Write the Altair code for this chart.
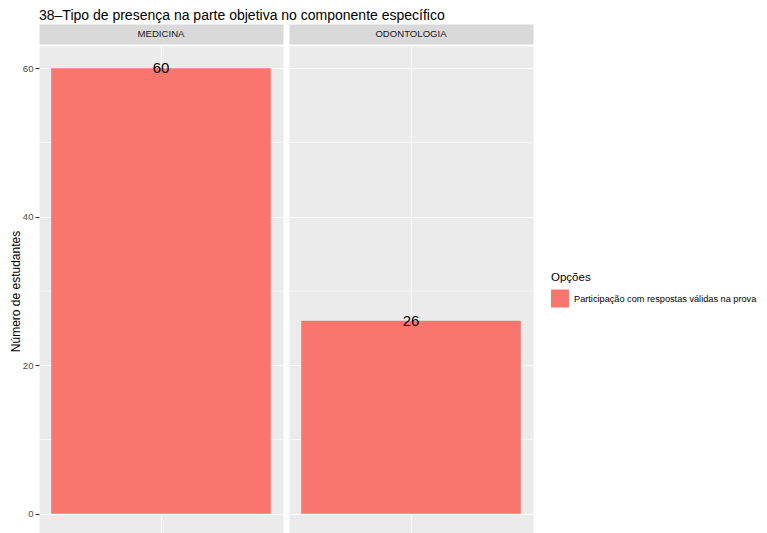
import altair as alt
import pandas as pd

# ---- data ----
cursos = ["MEDICINA", "ODONTOLOGIA"]
valores = [60, 26]
opcao = "Participação com respostas válidas na prova"
y_ticks = [0, 20, 40, 60]
y_minor = [10, 30, 50]
titulo = "38\u2013Tipo de presença na parte objetiva no componente específico"

FONT = "Liberation Sans"
PW, PH = 244, 490
y_scale = alt.Scale(domain=[-3, 63], nice=False, zero=False)
color_scale = alt.Scale(domain=[opcao], range=["#F8766D"])


def panel(i):
    df = pd.DataFrame({"curso": [cursos[i]], "valor": [valores[i]], "opcao": [opcao]})
    strip = (
        alt.Chart(pd.DataFrame({"curso": [cursos[i]]}))
        .mark_text(font=FONT, fontSize=9.6, color="#1A1A1A")
        .encode(x=alt.X("curso:N", axis=None), text="curso:N")
        .properties(width=PW, height=20,
                    view=alt.ViewBackground(fill="#D9D9D9", stroke="transparent"))
    )
    if i == 0:
        yaxis = alt.Axis(values=y_ticks, title="Número de estudantes", labelColor="#4D4D4D",
                         labelFontSize=9.6, labelFont=FONT, tickColor="#333333", tickSize=4,
                         domain=False, grid=True, gridColor="white", gridWidth=1.1,
                         titleFont=FONT, titleFontSize=12, titleFontWeight="normal",
                         titleColor="black", titlePadding=0, labelPadding=2)
    else:
        yaxis = alt.Axis(values=y_ticks, title=None, labels=False, ticks=False,
                         domain=False, grid=True, gridColor="white", gridWidth=1.1)
    xaxis = alt.Axis(labels=False, ticks=False, domain=False, title=None, grid=True,
                     bandPosition=0.5, gridColor="white", gridWidth=1.1)
    xenc = alt.X("curso:N", scale=alt.Scale(paddingInner=0.1, paddingOuter=0.05), axis=xaxis)
    minor = (
        alt.Chart(pd.DataFrame({"m": y_minor}))
        .mark_rule(color="white", strokeWidth=0.55)
        .encode(y=alt.Y("m:Q", scale=y_scale, axis=yaxis))
    )
    bars = (
        alt.Chart(df)
        .mark_bar()
        .encode(
            x=xenc,
            y=alt.Y("valor:Q", scale=y_scale, axis=yaxis),
            y2=alt.datum(0),
            color=alt.Color("opcao:N", scale=color_scale,
                            legend=alt.Legend(title="Opções", orient="none", legendX=512,
                                              legendY=248, symbolType="square", symbolSize=324,
                                              symbolStrokeWidth=0, titleFont=FONT,
                                              titleFontSize=11.5, titleFontWeight="normal",
                                              titleColor="black", labelFont=FONT,
                                              labelFontSize=9.2, labelColor="black",
                                              labelLimit=0, labelOffset=5, titlePadding=6)),
        )
    )
    text = (
        alt.Chart(df)
        .mark_text(font=FONT, fontSize=15, baseline="middle", color="black")
        .encode(x=alt.X("curso:N"), y=alt.Y("valor:Q"), text="valor:Q")
    )
    main = alt.layer(minor, bars, text).properties(
        width=PW, height=PH,
        view=alt.ViewBackground(fill="#EBEBEB", stroke="transparent"))
    return alt.vconcat(strip, main, spacing=0)


chart = (
    alt.hconcat(panel(0), panel(1), spacing=4)
    .resolve_scale(x="independent", y="independent", color="shared")
    .properties(title=alt.Title(titulo, anchor="start", frame="group", font=FONT,
                                fontSize=14, fontWeight="normal", color="black",
                                offset=1, dx=0))
    .configure_view(stroke="transparent")
    .configure(background="white", padding={"left": 0, "top": 0, "right": 0, "bottom": 0})
)

chart.save("out.html", embed_options={"renderer": "svg", "actions": False})
